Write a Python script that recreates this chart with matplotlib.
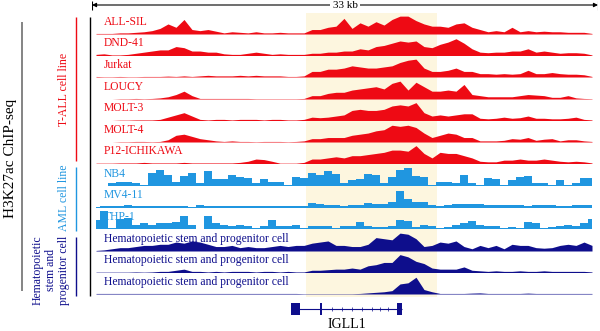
import matplotlib
matplotlib.use('Agg')
import matplotlib.pyplot as plt
import numpy as np

plt.rcParams['font.family'] = ['Liberation Serif', 'DejaVu Serif']

# signal heights, one value every ~0.52 kb over 33 kb
tall_names = ['ALL-SIL', 'DND-41', 'Jurkat', 'LOUCY', 'MOLT-3', 'MOLT-4', 'P12-ICHIKAWA']
aml_names = ['NB4', 'MV4-11', 'THP-1']
hspc_names = ['Hematopoietic stem and progenitor cell'] * 3

all_sil = [0.5, 0.5, 0.5, 1, 1, 1.5, 2, 3, 5, 9, 6, 13, 4, 3, 4, 2.5, 1, 2, 1.5, 1, 2, 1, 1, 1.5, 1, 1, 1,
           4, 4, 6, 7, 14, 5, 10, 7, 11, 8, 13, 16, 16, 12, 9, 7, 7, 6, 9, 10, 6, 4, 2, 3, 2, 6, 2, 3, 2,
           2.5, 2, 2, 1.5, 1.5, 1.5, 0.5]
dnd41 = [1, 1.5, 0.5, 0.5, 1, 2, 3, 4, 5, 5, 8, 7, 4, 4, 3, 3, 1.5, 1, 1, 2, 3, 2, 1, 1.5, 1, 1, 1,
         2, 2, 3, 3, 4, 4, 6, 5, 8, 9, 11, 13, 12, 13, 8, 7, 10, 12, 15, 11, 6, 3, 2.5, 3, 3, 4, 4, 6, 3,
         4, 3, 2, 2.5, 2.5, 2, 0.5]
jurkat = [0.5, 0.3, 0.3, 0.5, 0.3, 0.3, 0.5, 0.5, 0.5, 0.8, 0.5, 1, 0.5, 1, 1.5, 1, 1, 1, 1.5, 1, 1.5, 1, 1,
          1, 0.5, 0.5, 1, 5, 5, 7, 7, 8, 10, 9, 8, 8, 9, 10, 13, 15, 16, 8, 5, 5, 6, 8, 5, 5, 3, 3, 2.5, 3,
          2.5, 3, 6, 3, 3, 4, 3, 2.5, 2.5, 2, 0.5]
loucy = [0, 0, 0, 0.3, 0.3, 0.5, 0.3, 0.5, 1, 2, 4, 7, 3, 0.5, 0.5, 0.5, 0.5, 0.5, 0.5, 0.5, 0.3, 0.3, 0.3,
         0.3, 0.3, 0.3, 0.5, 3, 3, 5, 6, 6, 8, 9, 10, 11, 9, 14, 16, 8, 15, 11, 7, 7, 8, 7, 13, 4, 3, 2, 2,
         2, 2, 3, 4, 3.5, 3, 1.5, 1.5, 3, 1, 0.5, 0.3]
molt3 = [0, 0, 0, 0.3, 0.3, 0.5, 0.5, 0.5, 1, 3, 5, 7, 4, 1, 0.5, 1, 1, 0.5, 1, 1, 1, 0.5, 1, 1, 0.5, 0.5,
         1, 3, 2.5, 3, 4, 5, 9, 10, 9, 9, 10, 13, 14, 13, 16, 7, 4, 5, 4, 5, 6, 6, 2, 1.5, 2, 3, 2, 2.5, 4,
         2, 2, 1.5, 1.5, 2, 3, 1, 0.5]
molt4 = [0, 0, 0, 0.3, 0.3, 0.5, 0.5, 0.3, 0.5, 2, 6, 7, 5, 3, 2, 1, 0.5, 1, 0.5, 0.5, 0.3, 0.5, 0.5, 0.5,
         0.3, 0.5, 1, 3, 3, 4, 4, 4, 6, 7, 8, 10, 11, 15, 14, 15, 13, 8, 4, 6, 8, 7, 4, 4, 1, 1, 1, 1.5, 3,
         2.5, 4, 1.5, 2.5, 3, 1, 2, 2, 1, 0.5]
p12 = [0.3, 0.3, 0.3, 0.5, 0.5, 0.5, 1, 0.5, 0.5, 0.5, 0.5, 1, 0.5, 0.5, 0.5, 0.5, 0.5, 0.5, 1, 2, 4, 3.5,
       2, 0.3, 0.3, 0.3, 1, 4, 4, 5, 6, 5, 7, 7, 8, 9, 10, 12, 12, 11, 16, 9, 5, 10, 9, 9, 7, 5, 2, 1.5,
       1.5, 3, 3, 4, 3, 3, 4, 3, 2, 1.5, 2, 1.5, 0.5]
nb4 = [0, 0, 3, 4, 4, 3, 1, 12, 14, 10, 4, 9, 12, 3, 13, 6, 6, 10, 8, 7, 3, 6, 4, 4, 1, 8, 7, 12, 10, 13,
       11, 3, 5, 6, 11, 10, 3, 8, 14, 16, 9, 8, 1, 4, 4, 3, 10, 3, 1, 7, 6, 1, 5, 8, 9, 3, 3, 1, 5, 1, 3,
       7, 7]
mv411 = [0.5, 1, 1.5, 1.5, 2, 1.5, 1, 1, 1.5, 1, 1.5, 1, 0.5, 2.5, 1, 1, 1.5, 1, 1.5, 1, 1.5, 1, 1, 1.5,
         1, 1, 1.5, 4, 3.5, 2, 2, 1.5, 2, 2, 4, 3.5, 3, 5, 15, 8, 5, 5, 2, 1.5, 2, 3, 3, 3, 3, 2, 2, 2.5,
         2, 2, 1.5, 2, 2, 2.5, 1.5, 1, 2.5, 2.5, 2.5]
thp1 = [8, 16, 1, 9, 10, 4, 5, 4, 5, 5, 6, 12, 4, 0, 12, 5, 4, 3, 4, 3, 1, 3, 8, 3, 3, 4, 0.5, 3, 3, 3, 1,
        3, 3, 6, 3, 2, 2, 3, 8, 7, 2, 4, 3, 0.5, 2, 4, 5, 7, 4, 3, 3, 1, 2, 1, 6, 5, 1, 2, 3, 3.5, 3, 5, 9]
hspc1 = [0.5, 1, 2, 3, 3, 4, 5, 5, 6, 6, 8, 7, 9, 8, 6, 4, 4, 5, 3, 4, 3, 3, 4, 5, 4, 5, 5, 7, 8, 9, 5, 5,
         4, 4, 6, 12, 11, 10, 16, 15, 11, 4, 5, 8, 7, 9, 4, 2, 5, 3, 5, 2, 6, 5, 5, 3, 2.5, 3, 5, 6, 5, 8, 5]
hspc2 = [0.3, 0.3, 0.3, 0.3, 0.3, 0.5, 0.3, 0.5, 1, 1, 2, 3, 1, 1, 0.5, 1, 0.5, 1, 1, 1, 0.5, 1, 1, 0.5,
         1, 0.5, 0.5, 2, 2, 2.5, 3, 3, 4, 3, 6, 7, 9, 9, 16, 14, 10, 8, 4, 3, 3, 3, 5, 2, 1.5, 1, 1.5, 1, 1,
         1.5, 1, 1, 1.5, 1, 1, 1, 1, 1, 0.5]
hspc3 = [0.5] * 26 + [0.3] * 7 + [0.5, 1, 1.5, 2, 3, 9, 10, 15, 4, 2, 0.5, 0.5, 0.5, 0.5, 0.8, 1, 0.5, 0.5,
                                  0.5, 0.5, 0.5, 0.8, 0.5, 0.5, 0.5, 0.5, 0.5, 0.5, 0.5, 0.5]

span_kb = 33
pos = (np.arange(len(all_sil)) * 8 + 4) / 506 * span_kb
highlight = (13.96, 22.5)

# IGLL1 gene model (kb)
exon_start = [13.0, 14.87, 19.89]
exon_end = [13.57, 14.98, 20.2]
exon_h = [0.75, 0.75, 0.75]

red = '#EE0A14'
lblue = '#2096E0'
dblue = '#0E0E8C'

tracks = ([(n, v, red) for n, v in zip(tall_names, [all_sil, dnd41, jurkat, loucy, molt3, molt4, p12])] +
          [(n, v, lblue) for n, v in zip(aml_names, [nb4, mv411, thp1])] +
          [(n, v, dblue) for n, v in zip(hspc_names, [hspc1, hspc2, hspc3])])
baselines = [34, 55.5, 77, 99, 120.5, 142, 163.5, 186, 207.5, 229, 251, 272.5, 294]

W, H = 600, 331
fig = plt.figure(figsize=(6, 3.31), dpi=100)


def box(x0, y0, x1, y1):
    return [x0 / W, 1 - y1 / H, (x1 - x0) / W, (y1 - y0) / H]


# highlight band behind the tracks
bg = fig.add_axes(box(92, 13, 598, 297))
bg.axvspan(*highlight, color='#FDF6DF', lw=0)
bg.set_xlim(0, span_kb)
bg.axis('off')

for (name, vals, col), yb in zip(tracks, baselines):
    ax = fig.add_axes(box(92, yb - 19, 598, yb))
    ax.patch.set_alpha(0)
    step = 'mid' if col == lblue else None
    ax.fill_between(pos, 0, vals, color=col, lw=0, step=step)
    ax.axhline(0, color='#9a9a9a', lw=0.6, zorder=0)
    ax.set_xlim(0, span_kb)
    ax.set_ylim(0, 17)
    ax.axis('off')
    ax.text(12 / 506, 0.64, name, transform=ax.transAxes, color=col, fontsize=8.4, va='center', ha='left')

# top border line of first track
top = fig.add_axes(box(92, 0, 598, 13))
top.set_xlim(0, span_kb)
top.set_ylim(0, 13)
top.axis('off')
top.axhline(0.2, color='#c8c8c8', lw=0.6)
top.annotate('', xy=(0, 8), xytext=(span_kb / 2, 8),
             arrowprops=dict(arrowstyle='-|>', color='black', lw=0.8, mutation_scale=6, shrinkA=0, shrinkB=0))
top.annotate('', xy=(span_kb, 8), xytext=(span_kb / 2, 8),
             arrowprops=dict(arrowstyle='-|>', color='black', lw=0.8, mutation_scale=6, shrinkA=0, shrinkB=0))
top.vlines([0, span_kb], 3.5, 12.5, color='black', lw=0.8)
top.text(span_kb / 2, 8, '33 kb', fontsize=8, ha='center', va='center',
         bbox=dict(facecolor='white', edgecolor='none', pad=1.5))

# gene track
g = fig.add_axes(box(92, 300, 598, 331))
g.set_xlim(0, span_kb)
g.set_ylim(-1, 1)
g.axis('off')
gy = 0.42
g.hlines(gy, exon_start[0], exon_end[-1], color=dblue, lw=0.8)
for s, e, h in zip(exon_start, exon_end, exon_h):
    g.add_patch(plt.Rectangle((s, gy - h / 2), e - s, h, color=dblue, lw=0))
intron_ticks = [15.65, 16.3, 16.95, 17.6, 18.25, 18.8, 19.3]
g.plot(intron_ticks, [gy] * len(intron_ticks), '|', color=dblue, ms=2.5, mew=0.5)
g.text((exon_start[0] + exon_end[-1]) / 2, -0.6, 'IGLL1', fontsize=10, ha='center', va='center')

# left annotation
lab = fig.add_axes([0, 0, 1, 1])
lab.set_xlim(0, W)
lab.set_ylim(H, 0)
lab.axis('off')
lab.patch.set_alpha(0)
lab.vlines(90, 17, 296, color='black', lw=1.0)
lab.vlines(22, 22, 291, color='#707070', lw=1.2)
lab.text(11, 158, 'H3K27ac ChIP-seq', rotation=90, fontsize=11, ha='center', va='center')
lab.vlines(76, 17, 161, color=red, lw=1.0)
lab.text(64, 89, 'T-ALL cell line', rotation=90, fontsize=8.5, color=red, ha='center', va='center')
lab.vlines(76, 167, 231, color=lblue, lw=1.0)
lab.text(64, 198, 'AML cell line', rotation=90, fontsize=8.5, color=lblue, ha='center', va='center')
lab.vlines(76, 237, 296, color=dblue, lw=1.0)
lab.text(51, 270, 'Hematopoietic\nstem and\nprogenitor cell', rotation=90, fontsize=8.5, color=dblue,
         ha='center', va='center', linespacing=1.1, multialignment='center')

fig.savefig('out.png', dpi=100)
